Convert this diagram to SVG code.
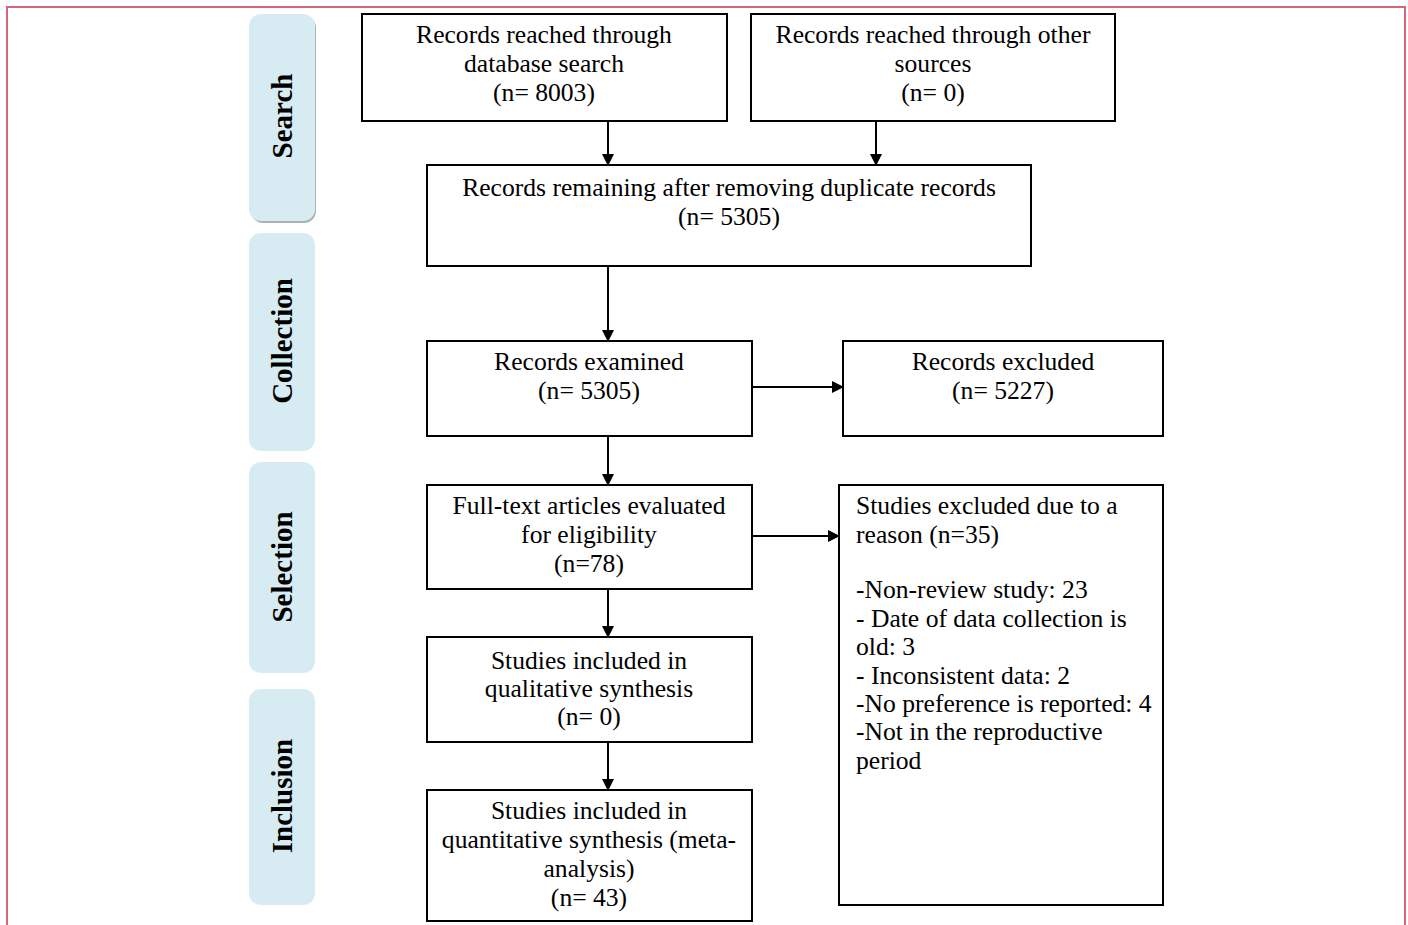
<svg xmlns="http://www.w3.org/2000/svg" width="1408" height="925" viewBox="0 0 1408 925">
<style>
.box{fill:#fff;stroke:#000;stroke-width:2}
.tab{fill:#d7ebf2}
.t{font-family:"Liberation Serif","DejaVu Serif",serif;font-size:25.6px;fill:#000}
.c{text-anchor:middle}
.tl{font-family:"Liberation Serif","DejaVu Serif",serif;font-size:29px;font-weight:bold;fill:#000;text-anchor:middle}
.ln{stroke:#000;stroke-width:2;fill:none}
</style>
<defs>
<marker id="ah" markerWidth="12" markerHeight="12" refX="11" refY="6" orient="auto" markerUnits="userSpaceOnUse">
<path d="M0,0 L12,6 L0,12 Z" fill="#000"/>
</marker>
</defs>
<rect width="1408" height="925" fill="#fff"/>
<rect x="7" y="7" width="1398" height="940" fill="none" stroke="#d9657a" stroke-width="2"/>

<g id="tab-search">
<rect x="251" y="16" width="65" height="207" rx="12" fill="#a9b3b8"/>
<rect class="tab" x="249" y="14" width="66" height="207" rx="12"/>
<text class="tl" transform="translate(292,116) rotate(-90)">Search</text>
</g>
<g id="tab-collection">
<rect class="tab" x="249" y="233" width="66" height="218" rx="12"/>
<text class="tl" transform="translate(292,341) rotate(-90)">Collection</text>
</g>
<g id="tab-selection">
<rect class="tab" x="249" y="462" width="66" height="211" rx="12"/>
<text class="tl" transform="translate(292,567) rotate(-90)">Selection</text>
</g>
<g id="tab-inclusion">
<rect class="tab" x="249" y="689" width="66" height="216" rx="12"/>
<text class="tl" transform="translate(292,796) rotate(-90)">Inclusion</text>
</g>

<g id="connectors">
<line class="ln" x1="608" y1="121" x2="608" y2="165" marker-end="url(#ah)"/>
<line class="ln" x1="876" y1="121" x2="876" y2="165" marker-end="url(#ah)"/>
<line class="ln" x1="608" y1="266" x2="608" y2="341" marker-end="url(#ah)"/>
<line class="ln" x1="608" y1="436" x2="608" y2="485" marker-end="url(#ah)"/>
<line class="ln" x1="752" y1="387" x2="843" y2="387" marker-end="url(#ah)"/>
<line class="ln" x1="752" y1="536" x2="839" y2="536" marker-end="url(#ah)"/>
<line class="ln" x1="608" y1="589" x2="608" y2="637" marker-end="url(#ah)"/>
<line class="ln" x1="608" y1="742" x2="608" y2="790" marker-end="url(#ah)"/>
</g>

<g id="n-database">
<rect class="box" x="362" y="14" width="365" height="107"/>
<text class="t c" x="544" y="43">Records reached through</text>
<text class="t c" x="544" y="72">database search</text>
<text class="t c" x="544" y="101">(n= 8003)</text>
</g>
<g id="n-other">
<rect class="box" x="751" y="14" width="364" height="107"/>
<text class="t c" x="933" y="43">Records reached through other</text>
<text class="t c" x="933" y="72">sources</text>
<text class="t c" x="933" y="101">(n= 0)</text>
</g>
<g id="n-remaining">
<rect class="box" x="427" y="165" width="604" height="101"/>
<text class="t c" x="729" y="196">Records remaining after removing duplicate records</text>
<text class="t c" x="729" y="225">(n= 5305)</text>
</g>
<g id="n-examined">
<rect class="box" x="427" y="341" width="325" height="95"/>
<text class="t c" x="589" y="370">Records examined</text>
<text class="t c" x="589" y="399">(n= 5305)</text>
</g>
<g id="n-excluded">
<rect class="box" x="843" y="341" width="320" height="95"/>
<text class="t c" x="1003" y="370">Records excluded</text>
<text class="t c" x="1003" y="399">(n= 5227)</text>
</g>
<g id="n-fulltext">
<rect class="box" x="427" y="485" width="325" height="104"/>
<text class="t c" x="589" y="514">Full-text articles evaluated</text>
<text class="t c" x="589" y="543">for eligibility</text>
<text class="t c" x="589" y="572">(n=78)</text>
</g>
<g id="n-studies-excluded">
<rect class="box" x="839" y="485" width="324" height="420"/>
<text class="t" x="856" y="514">Studies excluded due to a</text>
<text class="t" x="856" y="543">reason (n=35)</text>
<text class="t" x="856" y="598">-Non-review study: 23</text>
<text class="t" x="856" y="627">- Date of data collection is</text>
<text class="t" x="856" y="655">old: 3</text>
<text class="t" x="856" y="684">- Inconsistent data: 2</text>
<text class="t" x="856" y="712">-No preference is reported: 4</text>
<text class="t" x="856" y="740">-Not in the reproductive</text>
<text class="t" x="856" y="769">period</text>
</g>
<g id="n-qualitative">
<rect class="box" x="427" y="637" width="325" height="105"/>
<text class="t c" x="589" y="669">Studies included in</text>
<text class="t c" x="589" y="697">qualitative synthesis</text>
<text class="t c" x="589" y="725">(n= 0)</text>
</g>
<g id="n-quantitative">
<rect class="box" x="427" y="790" width="325" height="131"/>
<text class="t c" x="589" y="819">Studies included in</text>
<text class="t c" x="589" y="848">quantitative synthesis (meta-</text>
<text class="t c" x="589" y="877">analysis)</text>
<text class="t c" x="589" y="906">(n= 43)</text>
</g>
</svg>
